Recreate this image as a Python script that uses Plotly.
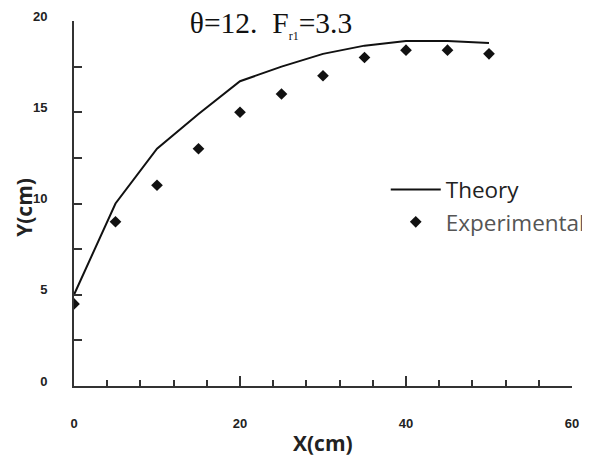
import plotly.graph_objects as go

x_cm = [0, 5, 10, 15, 20, 25, 30, 35, 40, 45, 50]
theory_y = [5.0, 10.0, 13.0, 14.9, 16.7, 17.5, 18.2, 18.65, 18.9, 18.9, 18.8]
exp_y = [4.5, 9.0, 11.0, 13.0, 15.0, 16.0, 17.0, 18.0, 18.4, 18.4, 18.2]

x_ticks = [0, 20, 40, 60]
y_ticks = [0, 5, 10, 15, 20]

fig = go.Figure()
fig.add_trace(go.Scatter(
    x=x_cm, y=theory_y, mode="lines", name="Theory",
    line=dict(color="#111111", width=2),
))
fig.add_trace(go.Scatter(
    x=x_cm, y=exp_y, mode="markers",
    name='<span style="color:#555555">Experimental</span>',
    marker=dict(symbol="diamond", size=9, color="#111111"),
))

axis_font = dict(family="Liberation Sans", size=13, color="#222222", weight="bold")
title_font = dict(family="Open Sans", size=21, color="#222222", weight="bold")

# the page body adds an 8px offset; the figure is sized to fit the 590x457 window
fig.update_layout(
    width=582, height=449,
    margin=dict(l=66, r=18, t=13, b=71, autoexpand=False),
    paper_bgcolor="white", plot_bgcolor="white",
    showlegend=True,
    legend=dict(
        x=0.626, y=0.596, xanchor="left", yanchor="top",
        font=dict(family="Open Sans", size=22.5, color="#222222"),
        bgcolor="rgba(0,0,0,0)", itemwidth=50, tracegroupgap=0,
    ),
    title=dict(
        text='θ=12.  F<sub><span style="font-size:12px;color:#111111">r1</span></sub>=3.3',
        x=263 / 582, y=1 - 15 / 449, xanchor="center", yanchor="middle",
        xref="container", yref="container",
        font=dict(family="Liberation Serif", size=29.5, color="#111111"),
    ),
    xaxis=dict(
        range=[0, 60], tickvals=x_ticks, ticktext=[str(v) for v in x_ticks],
        showline=True, linecolor="#333333", linewidth=2,
        ticks="inside", ticklen=10, tickwidth=2, tickcolor="#333333",
        minor=dict(dtick=4, ticks="inside", ticklen=6, tickwidth=2, tickcolor="#333333"),
        showgrid=False, zeroline=False, automargin=False,
        tickfont=axis_font, ticklabelstandoff=24,
    ),
    yaxis=dict(
        range=[0, 20], tickvals=y_ticks, ticktext=[str(v) for v in y_ticks],
        showline=True, linecolor="#333333", linewidth=2,
        ticks="inside", ticklen=8, tickwidth=2, tickcolor="#333333",
        minor=dict(dtick=2.5, ticks="inside", ticklen=8, tickwidth=2, tickcolor="#333333"),
        showgrid=False, zeroline=False, automargin=False,
        tickfont=axis_font, ticklabelstandoff=22, ticklabelshift=-5,
    ),
    annotations=[
        dict(text="X(cm)", xref="paper", yref="paper", x=0.5, y=-0.156,
             xanchor="center", yanchor="middle", showarrow=False, font=title_font),
        dict(text="Y(cm)", xref="paper", yref="paper", x=-0.101, y=0.49,
             xanchor="center", yanchor="middle", textangle=-90,
             showarrow=False, font=title_font),
    ],
)

fig.write_html("out.html")
